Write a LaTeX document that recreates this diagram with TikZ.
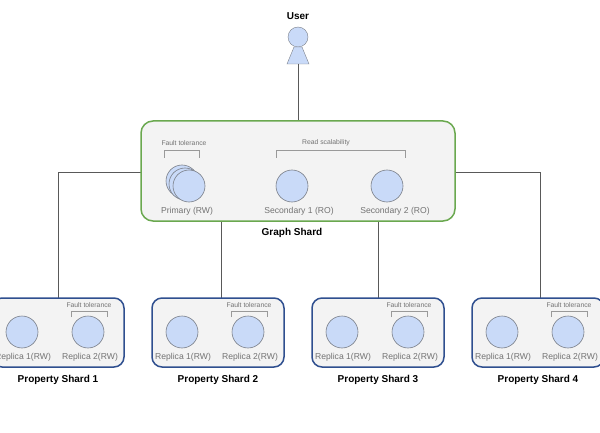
\documentclass[tikz,border=0pt]{standalone}
\usepackage{fontspec}
\setmainfont{Liberation Sans}
\definecolor{cfill}{HTML}{C9DAF8}
\definecolor{cline}{HTML}{7A7F88}
\definecolor{gline}{HTML}{6AA84F}
\definecolor{bline}{HTML}{2F4F8F}
\definecolor{bg}{HTML}{F3F3F3}
\begin{document}
\begin{tikzpicture}[x=1pt,y=-1pt,
  circ/.style={circle,draw=cline,fill=cfill,minimum size=32pt,inner sep=0,line width=0.6pt},
  lab/.style={text=gray!90!black,font=\fontsize{8.6}{9}\selectfont},
  small/.style={text=gray!90!black,font=\fontsize{6.8}{7}\selectfont},
  title/.style={font=\bfseries\fontsize{10}{11}\selectfont},
  conn/.style={draw=gray!70!black,line width=0.6pt},
  brk/.style={draw=gray!80,line width=0.7pt},
  gbox/.style={draw=gline,line width=1.5pt,fill=bg,rounded corners=12pt},
  pbox/.style={draw=bline,line width=1.5pt,fill=bg,rounded corners=10pt}]
\useasboundingbox (0,0) rectangle (600,433);
\clip (0,0) rectangle (600,433);
% user
\node[circle,draw=cline,fill=cfill,minimum size=20pt,inner sep=0] (uh) at (298,37) {};
\draw[draw=cline,fill=cfill] (294,47)--(302,47)--(309,64)--(287,64)--cycle;
\coordinate (ub) at (298,64);
\node[title] at (298,16) {User};
% graph shard
\coordinate (gtop) at (298,121);
\draw[conn] (ub)--(gtop);
\coordinate (gl) at (141,172);
\coordinate (gr) at (455,172);
\coordinate (gb1) at (221,221);
\coordinate (gb2) at (378,221);
\draw[conn] (gl) -- (58,172) -- (58,300);
\draw[conn] (gr) -- (540,172) -- (540,300);
\draw[conn] (gb1) -- (221,300);
\draw[conn] (gb2) -- (378,300);
\draw[gbox] (141,121) rectangle (455,221);
\node[circ] at (182,181) {};
\node[circ] at (185,184) {};
\node[circ] (pr) at (189,186) {};
\node[circ] (s1) at (292,186) {};
\node[circ] (s2) at (387,186) {};
\node[lab] at (187,211) {Primary (RW)};
\node[lab] at (299,211) {Secondary 1 (RO)};
\node[lab] at (395,211) {Secondary 2 (RO)};
\node[small] at (184,143) {Fault tolerance};
\draw[brk] (164,158)--(164,150)--(199,150)--(199,158);
\node[small] at (326,143) {Read scalability};
\draw[brk] (276,158)--(276,150)--(405,150)--(405,158);
\node[title] at (292,233) {Graph Shard};
% property shards
\foreach \i/\x in {1/-8,2/152,3/312,4/472}{
  \draw[pbox] (\x,298) rectangle (\x+132,367);
  \node[circ] (r1\i) at (\x+30,332) {};
  \node[circ] (r2\i) at (\x+96,332) {};
  \node[lab] at (\x+31,357) {Replica 1(RW)};
  \node[lab] at (\x+98,357) {Replica 2(RW)};
  \node[small] at (\x+97,305) {Fault tolerance};
  \draw[brk] (\x+79,317)--(\x+79,311)--(\x+115,311)--(\x+115,317);
  \node[title] at (\x+66,380) {Property Shard \i};
}
\end{tikzpicture}
\end{document}
